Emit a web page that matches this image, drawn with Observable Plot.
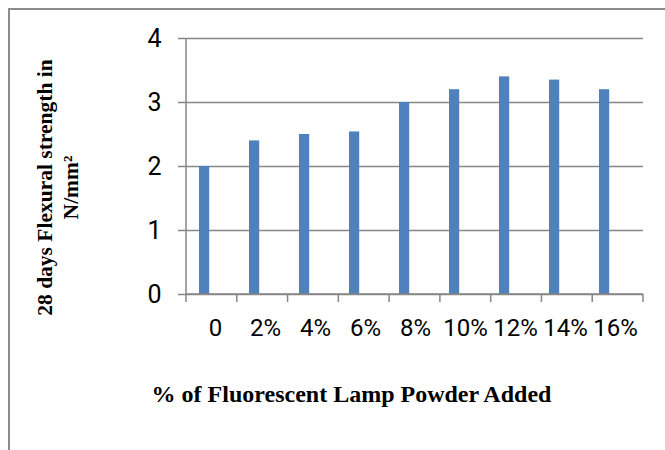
<!DOCTYPE html>
<html><head><meta charset="utf-8">
<script src="https://cdn.jsdelivr.net/npm/d3@7"></script>
<script src="https://cdn.jsdelivr.net/npm/@observablehq/plot@0.6"></script>
<style>
body{margin:0;background:#fff;}
#wrap{position:relative;width:665px;height:450px;overflow:hidden;}
#border{position:absolute;left:8px;top:8px;width:700px;height:500px;border-top:2px solid #8c8c8c;border-left:2px solid #8c8c8c;}
#chart{position:absolute;left:0;top:0;}
</style></head><body>
<div id="wrap"><div id="border"></div><div id="chart"></div></div>
<script>
const categories = ["0","2%","4%","6%","8%","10%","12%","14%","16%"];
const strength = [2.0, 2.4, 2.5, 2.54, 3.0, 3.2, 3.4, 3.35, 3.2];
const yTicks = [0, 1, 2, 3, 4];
const yTitleLines = ["28 days Flexural strength in", "N/mm\u00B2"];
const xTitle = "% of Fluorescent Lamp Powder Added";

const data = categories.map((c, i) => ({pct: c, value: strength[i]}));

const tickFont = "Roboto,'Liberation Sans Narrow',sans-serif";
const titleFont = "'Liberation Serif','Times New Roman',serif";
const gridColor = "#868686";

// axis line on the left and category boundary ticks on the bottom
function axisLines(index, scales, values, dims) {
  const g = d3.create("svg:g");
  const left = dims.marginLeft, right = dims.width - dims.marginRight;
  const top = dims.marginTop, bottom = dims.height - dims.marginBottom;
  const n = categories.length, step = (right - left) / n;
  g.append("line").attr("x1", left).attr("x2", left).attr("y1", top).attr("y2", bottom)
    .attr("stroke", gridColor).attr("stroke-width", 1.5);
  g.append("line").attr("x1", left).attr("x2", right).attr("y1", bottom).attr("y2", bottom)
    .attr("stroke", gridColor).attr("stroke-width", 1.5);
  for (let i = 0; i <= n; i++) {
    const x = left + i * step;
    g.append("line").attr("x1", x).attr("x2", x).attr("y1", bottom).attr("y2", bottom + 8)
      .attr("stroke", gridColor).attr("stroke-width", 1.5);
  }
  return g.node();
}

const plot = Plot.plot({
  width: 665, height: 450,
  marginLeft: 186, marginRight: 22, marginTop: 38, marginBottom: 156,
  style: {fontFamily: tickFont, fontSize: "24px", color: "#000", background: "transparent", overflow: "visible"},
  x: {type: "band", domain: categories, padding: 0},
  y: {domain: [0, 4]},
  marks: [
    Plot.gridY(yTicks, {stroke: gridColor, strokeOpacity: 1, strokeWidth: 1.5}),
    Plot.barY(data, {x: "pct", y: "value", fill: "#4f81bd", insetLeft: 9, insetRight: 30.8}),
    axisLines,
    Plot.axisY(yTicks, {tickSize: 8, tickPadding: 17, stroke: gridColor, strokeWidth: 1.5, label: null, fontSize: 25, tickFormat: d => String(d)}),
    Plot.axisX({tickSize: 0, tickPadding: 24, label: null, fontSize: 24}),
    Plot.text([yTitleLines.join("\n")], {
      text: d => d, frameAnchor: "left", dx: -130, dy: 21, rotate: -90, textAnchor: "middle",
      lineAnchor: "middle", lineHeight: 1.2, fontFamily: titleFont, fontWeight: "bold", fontSize: 21.5, fill: "#000"
    }),
    Plot.text([xTitle], {
      text: d => d, frameAnchor: "bottom", dx: -63.5, dy: 100,
      lineAnchor: "middle", fontFamily: titleFont, fontWeight: "bold", fontSize: 24, fill: "#000"
    })
  ]
});
document.getElementById("chart").appendChild(plot);
</script>
</body></html>
